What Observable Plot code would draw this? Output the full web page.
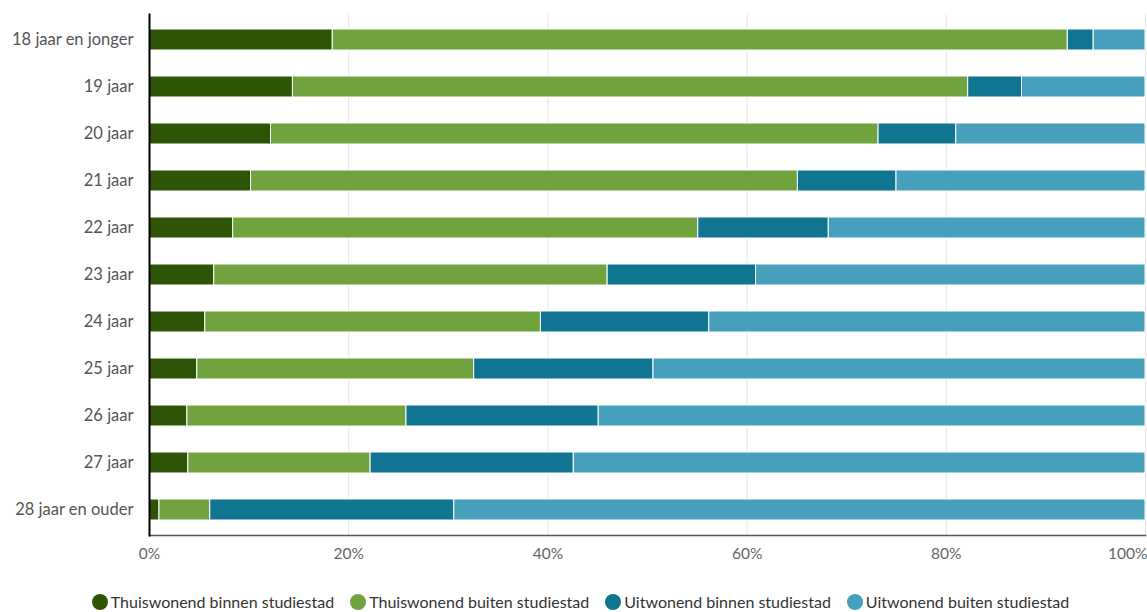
<!DOCTYPE html>
<html><head><meta charset="utf-8">
<script src="https://cdn.jsdelivr.net/npm/d3@7"></script>
<script src="https://cdn.jsdelivr.net/npm/@observablehq/plot@0.6"></script>
<style>
body{margin:0;background:#fff;font-family:Lato,"Open Sans",sans-serif;}
#legend{display:flex;justify-content:center;align-items:center;gap:16px;font-size:16px;color:#333;margin-top:12px;padding-left:14px}
.item{display:flex;align-items:center;gap:3px}
.dot{width:16px;height:16px;border-radius:50%;display:inline-block}
</style></head><body>
<div id="chart"></div>
<div id="legend"></div>
<script>
const ages = ["18 jaar en jonger","19 jaar","20 jaar","21 jaar","22 jaar","23 jaar","24 jaar","25 jaar","26 jaar","27 jaar","28 jaar en ouder"];
const seriesNames = ["Thuiswonend binnen studiestad","Thuiswonend buiten studiestad","Uitwonend binnen studiestad","Uitwonend buiten studiestad"];
const colors = ["#2e5506","#70a33e","#0f7590","#47a0bb"];
const thuisBinnen = [18.4,14.4,12.2,10.2,8.4,6.5,5.6,4.8,3.8,3.9,1.0];
const thuisBuiten = [73.8,67.8,61.0,54.9,46.7,39.5,33.7,27.8,22.0,18.3,5.1];
const uitBinnen   = [2.6,5.4,7.8,9.9,13.1,14.9,16.9,18.0,19.3,20.4,24.5];
const uitBuiten   = [5.2,12.4,19.0,25.0,31.8,39.1,43.8,49.4,54.9,57.4,69.4];
const xTicks = [0,20,40,60,80,100];

const seriesValues = [thuisBinnen, thuisBuiten, uitBinnen, uitBuiten];
const rows = [];
seriesValues.forEach((vals, s) => vals.forEach((v, i) => rows.push({age: ages[i], series: seriesNames[s], value: v})));

const chart = Plot.plot({
  width: 1147,
  height: 580,
  marginTop: 14,
  marginBottom: 45,
  marginLeft: 149,
  marginRight: 2,
  style: {fontFamily: "Lato, 'Open Sans', sans-serif", fontSize: "15px", color: "#555"},
  x: {domain: [0, 100], axis: null},
  y: {domain: ages, paddingInner: 0.55, paddingOuter: 0.275, axis: null},
  color: {domain: seriesNames, range: colors},
  marks: [
    Plot.gridX(xTicks.slice(1), {stroke: "#e6e6e6", strokeOpacity: 1, strokeWidth: 1}),
    Plot.barX(rows, Plot.stackX({x: "value", y: "age", fill: "series", order: seriesNames, stroke: "#fff", strokeWidth: 1})),
    Plot.frame({anchor: "bottom", stroke: "#555", strokeWidth: 1.5}),
    Plot.frame({anchor: "left", stroke: "#000", strokeWidth: 2}),
    Plot.axisY({tickSize: 0, tickPadding: 16, fontSize: 16.5, color: "#555", label: null}),
    Plot.text(xTicks.slice(0, -1), {x: d => d, frameAnchor: "bottom", dy: 23, text: d => d + "%", fill: "#666", fontSize: 15.5}),
    Plot.text(xTicks.slice(-1), {x: d => d, frameAnchor: "bottom", dy: 23, text: d => d + "%", fill: "#666", fontSize: 15.5, textAnchor: "end", dx: 2})
  ]
});
document.getElementById("chart").appendChild(chart);

const legend = document.getElementById("legend");
seriesNames.forEach((n, i) => {
  const it = document.createElement("div"); it.className = "item";
  const d = document.createElement("span"); d.className = "dot"; d.style.background = colors[i];
  const t = document.createElement("span"); t.textContent = n;
  it.appendChild(d); it.appendChild(t); legend.appendChild(it);
});
</script></body></html>
